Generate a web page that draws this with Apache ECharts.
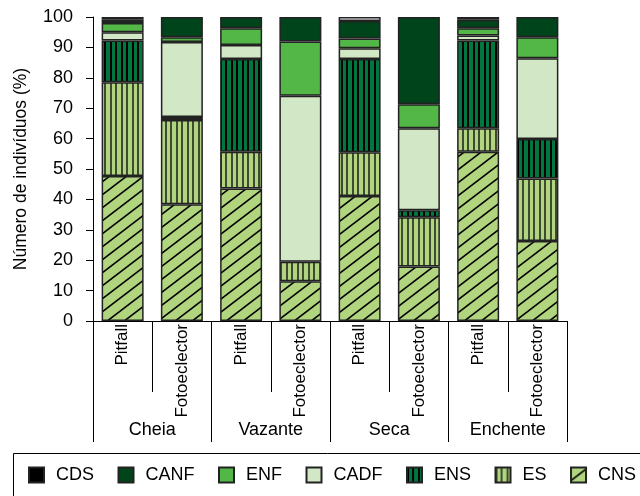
<!DOCTYPE html>
<html>
<head>
<meta charset="utf-8">
<script src="https://cdn.jsdelivr.net/npm/echarts@6/dist/echarts.min.js"></script>
<style>html,body{margin:0;padding:0;background:#fff;}#c{width:640px;height:496px;}</style>
</head>
<body>
<div id="c"></div>
<script>
// ---- data ----
const categories = ['Pitfall','Fotoeclector','Pitfall','Fotoeclector','Pitfall','Fotoeclector','Pitfall','Fotoeclector'];
const groups = ['Cheia','Vazante','Seca','Enchente'];
const CNS  = [47.7, 38.4, 43.6, 13.1, 41.1, 17.9, 55.7, 26.3];
const ES   = [30.8, 27.7, 12.1,  6.4, 14.4, 16.2,  7.7, 20.6];
const ENS  = [13.8,  1.0, 30.5,  0.0, 30.7,  2.3, 28.9, 13.0];
const CADF = [ 2.7, 24.7,  4.6, 54.6,  3.5, 27.0,  1.6, 26.5];
const ENF  = [ 3.0,  1.5,  5.5, 17.8,  3.2,  7.9,  2.4,  6.9];
const CANF = [ 1.1,  6.7,  3.7,  8.1,  5.8, 28.7,  2.8,  6.7];
const CDS  = [ 0.9,  0.0,  0.0,  0.0,  1.3,  0.0,  0.9,  0.0];
const yTicks = {min: 0, max: 100, step: 10};
const legendOrder = ['CDS','CANF','ENF','CADF','ENS','ES','CNS'];

// ---- patterns ----
function stripes(bg, line) {
  const c = document.createElement('canvas');
  c.width = 11; c.height = 4;
  const x = c.getContext('2d');
  x.fillStyle = bg; x.fillRect(0, 0, 11, 4);
  x.fillStyle = line;
  x.fillRect(0, 0, 2, 4);
  x.fillRect(5, 0, 2, 4);
  return {image: c, repeat: 'repeat'};
}
function diagonal(bg, line) {
  const W = 17, H = 13;
  const c = document.createElement('canvas');
  c.width = W; c.height = H;
  const x = c.getContext('2d');
  x.fillStyle = bg; x.fillRect(0, 0, W, H);
  x.strokeStyle = line; x.lineWidth = 1.6;
  for (const k of [-1, 0, 1]) {
    x.beginPath();
    x.moveTo(k * W - W, 2 * H);
    x.lineTo(k * W + 2 * W, -H);
    x.stroke();
  }
  return {image: c, repeat: 'repeat'};
}

const FONT = 'Liberation Sans, Arial, sans-serif';
const border = {borderColor: '#222', borderWidth: 1.5};
const nz = a => a.map(v => (v === 0 ? '-' : v));

const seriesDefs = [
  {name: 'CNS',  data: CNS,  color: diagonal('#b0d57e', '#000')},
  {name: 'ES',   data: ES,   color: stripes('#b0d57e', '#3f4a33')},
  {name: 'ENS',  data: ENS,  color: stripes('#00773e', '#000')},
  {name: 'CADF', data: CADF, color: '#d1e7c5'},
  {name: 'ENF',  data: ENF,  color: '#52b747'},
  {name: 'CANF', data: CANF, color: '#00441b'},
  {name: 'CDS',  data: CDS,  color: '#ffffff'}
];

const chart = echarts.init(document.getElementById('c'), null, {renderer: 'canvas'});
chart.setOption({
  animation: false,
  textStyle: {fontFamily: FONT, color: '#000'},
  grid: {left: 93, right: 73, top: 17, bottom: 175},
  legend: {
    left: 28, top: 466, padding: 0,
    icon: 'rect', itemWidth: 15, itemHeight: 15, itemGap: 23.5,
    textStyle: {fontSize: 18, color: '#000', fontFamily: FONT, padding: [0, 0, 0, 7]},
    data: legendOrder.map(n => n === 'CDS' ? {name: n, itemStyle: {color: '#000'}} : {name: n})
  },
  xAxis: [
    {
      type: 'category', data: categories, position: 'bottom',
      axisLine: {onZero: false, lineStyle: {color: '#000', width: 1}},
      axisTick: {show: true, length: 71, lineStyle: {color: '#000', width: 1}},
      axisLabel: {rotate: 90, margin: 3, fontSize: 17, color: '#000', fontFamily: FONT, interval: 0},
      splitLine: {show: false}
    },
    {
      type: 'category', data: groups, position: 'bottom', offset: 0,
      axisLine: {show: false, onZero: false},
      axisTick: {show: true, length: 121, lineStyle: {color: '#000', width: 1}},
      axisLabel: {margin: 100, fontSize: 18, color: '#000', fontFamily: FONT, interval: 0},
      splitLine: {show: false}
    }
  ],
  yAxis: {
    type: 'value', min: yTicks.min, max: yTicks.max, interval: yTicks.step,
    name: 'Número de indivíduos (%)', nameLocation: 'middle', nameGap: 63,
    nameTextStyle: {fontSize: 17.5, color: '#000', fontFamily: FONT},
    axisLine: {show: true, lineStyle: {color: '#000', width: 1}},
    axisTick: {show: true, length: 7, lineStyle: {color: '#000', width: 1}},
    axisLabel: {fontSize: 18, color: '#000', margin: 20, fontFamily: FONT},
    splitLine: {show: false}
  },
  graphic: [{
    type: 'rect', shape: {x: 13.5, y: 453.5, width: 700, height: 100},
    style: {fill: 'none', stroke: '#000', lineWidth: 1}, silent: true
  }],
  series: seriesDefs.map(s => ({
    name: s.name, type: 'bar', stack: 'total', xAxisIndex: 0,
    barWidth: 42, data: nz(s.data),
    itemStyle: Object.assign({color: s.color}, border)
  }))
});
</script>
</body>
</html>
